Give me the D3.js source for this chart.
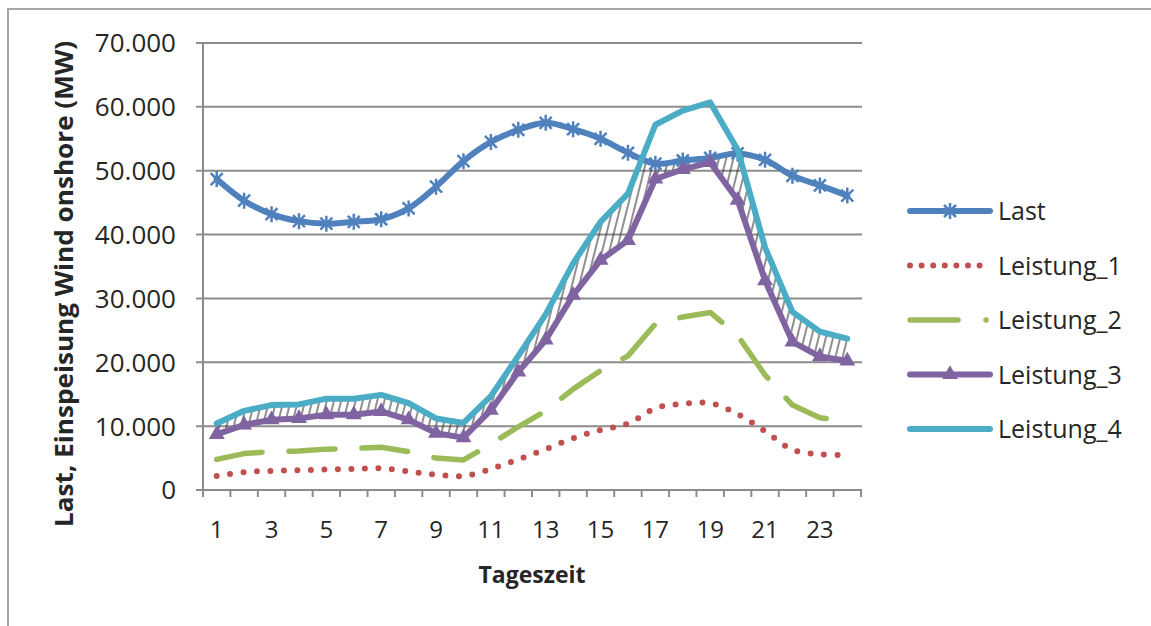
<!DOCTYPE html>
<html>
<head>
<meta charset="utf-8">
<script src="https://cdn.jsdelivr.net/npm/d3@7"></script>
<style>
body { margin: 0; background: #fff; }
text { font-family: "Open Sans", sans-serif; fill: #262626; }
</style>
</head>
<body>
<svg id="chart" width="1151" height="626"></svg>
<script>
var hours = [1, 2, 3, 4, 5, 6, 7, 8, 9, 10, 11, 12, 13, 14, 15, 16, 17, 18, 19, 20, 21, 22, 23, 24];
var hourLabels = [1, 3, 5, 7, 9, 11, 13, 15, 17, 19, 21, 23];
var yTicks = [0, 10000, 20000, 30000, 40000, 50000, 60000, 70000];
var seriesNames = ["Last", "Leistung_1", "Leistung_2", "Leistung_3", "Leistung_4"];

var last = [48700, 45300, 43200, 42100, 41700, 42000, 42400, 44100, 47500, 51500, 54500, 56400,
            57500, 56500, 55000, 52800, 51100, 51600, 52000, 52700, 51700, 49200, 47700, 46100];
var leistung1 = [2200, 2800, 3000, 3100, 3200, 3300, 3400, 2900, 2400, 2200, 3300, 4800,
                 6400, 8100, 9400, 10400, 12800, 13500, 13600, 11900, 9200, 6300, 5600, 5500];
var leistung2 = [4800, 5700, 6000, 6100, 6400, 6500, 6700, 6000, 5000, 4700, 7200, 9900,
                 12400, 15800, 18700, 21000, 26000, 27100, 27800, 24200, 18000, 13300, 11300, 10800];
var leistung3 = [8700, 10200, 11000, 11200, 11800, 11800, 12300, 11000, 8900, 8200, 12500, 18500,
                 23500, 30500, 36000, 39100, 48700, 50200, 51300, 45400, 32800, 23200, 20900, 20200];
var leistung4 = [10400, 12400, 13300, 13400, 14300, 14300, 14900, 13600, 11200, 10500, 14700, 21000,
                 27500, 35500, 42000, 46400, 57200, 59400, 60700, 53300, 38000, 27900, 24800, 23700];

var svg = d3.select("#chart");
var x = d3.scaleBand().domain(hours).range([203, 861]);
var y = d3.scaleLinear().domain([0, 70000]).range([490, 43]);
var cx = function (h) { return x(h) + x.bandwidth() / 2; };
var gridColor = "#8c8c8c";

// outer frame (only top + left visible in the original)
svg.append("path")
    .attr("d", "M8,626V9H1151")
    .attr("fill", "none")
    .attr("stroke", "#a6a6a6")
    .attr("stroke-width", 2);

// hatch pattern between Leistung_3 and Leistung_4
var defs = svg.append("defs");
var pat = defs.append("pattern")
    .attr("id", "hatch")
    .attr("patternUnits", "userSpaceOnUse")
    .attr("width", 7)
    .attr("height", 10)
    .attr("patternTransform", "rotate(14)");
pat.append("line")
    .attr("x1", 1).attr("y1", 0).attr("x2", 1).attr("y2", 10)
    .attr("stroke", "#333")
    .attr("stroke-width", 1.1);

// hatch only where the wind lies under the load curve
defs.append("clipPath")
    .attr("id", "belowLast")
    .append("path")
    .datum(last)
    .attr("d", d3.area()
        .x(function (d, i) { return cx(hours[i]); })
        .y0(490)
        .y1(function (d) { return y(d); })
        .curve(d3.curveCatmullRom));

// gridlines
svg.append("g").selectAll("line").data(yTicks).enter().append("line")
    .attr("x1", 196).attr("x2", 862)
    .attr("y1", function (d) { return y(d); })
    .attr("y2", function (d) { return y(d); })
    .attr("stroke", gridColor)
    .attr("stroke-width", 2);

// y axis line
svg.append("line")
    .attr("x1", 203).attr("x2", 203)
    .attr("y1", y(70000)).attr("y2", 497)
    .attr("stroke", gridColor).attr("stroke-width", 2);

// x ticks at band edges
var edges = hours.map(function (h) { return x(h); }).concat([x.range()[1]]);
svg.append("g").selectAll("line").data(edges).enter().append("line")
    .attr("x1", function (d) { return d; })
    .attr("x2", function (d) { return d; })
    .attr("y1", 490).attr("y2", 497)
    .attr("stroke", gridColor).attr("stroke-width", 2);

// y tick labels
svg.append("g").selectAll("text").data(yTicks).enter().append("text")
    .attr("x", 176)
    .attr("y", function (d) { return y(d); })
    .attr("dy", "0.36em")
    .attr("text-anchor", "end")
    .style("font-size", "26px")
    .text(function (d) { return d3.format(",")(d).replace(/,/g, "."); });

// x tick labels
svg.append("g").selectAll("text").data(hourLabels).enter().append("text")
    .attr("x", function (d) { return cx(d); })
    .attr("y", 538)
    .attr("text-anchor", "middle")
    .style("font-size", "24px")
    .text(function (d) { return d; });

// axis titles
svg.append("text")
    .attr("transform", "translate(73,284) rotate(-90)")
    .attr("text-anchor", "middle")
    .attr("textLength", 486)
    .attr("lengthAdjust", "spacingAndGlyphs")
    .style("font-size", "25px")
    .style("font-weight", "bold")
    .text("Last, Einspeisung Wind onshore (MW)");

svg.append("text")
    .attr("x", 532)
    .attr("y", 583)
    .attr("text-anchor", "middle")
    .style("font-size", "23px")
    .style("font-weight", "bold")
    .text("Tageszeit");

// hatched band
var band = d3.area()
    .x(function (d, i) { return cx(hours[i]); })
    .y0(function (d, i) { return y(leistung3[i]); })
    .y1(function (d, i) { return y(leistung4[i]); });
svg.append("path")
    .datum(hours)
    .attr("d", band)
    .attr("clip-path", "url(#belowLast)")
    .attr("fill", "url(#hatch)");

function lineFor(values, curve) {
    return d3.line()
        .x(function (d, i) { return cx(hours[i]); })
        .y(function (d) { return y(d); })
        .curve(curve)(values);
}

var styles = {
    "Last": { color: "#4f81bd", values: last, curve: d3.curveCatmullRom, dash: null, width: 6 },
    "Leistung_1": { color: "#c0504d", values: leistung1, curve: d3.curveCatmullRom, dash: "0,13.5", width: 6 },
    "Leistung_2": { color: "#9bbb59", values: leistung2, curve: d3.curveLinear, dash: "46,27", width: 5.5 },
    "Leistung_3": { color: "#8064a2", values: leistung3, curve: d3.curveLinear, dash: null, width: 6 },
    "Leistung_4": { color: "#4bacc6", values: leistung4, curve: d3.curveLinear, dash: null, width: 6 }
};

seriesNames.forEach(function (name) {
    var s = styles[name];
    svg.append("path")
        .attr("d", lineFor(s.values, s.curve))
        .attr("fill", "none")
        .attr("stroke", s.color)
        .attr("stroke-width", s.width)
        .attr("stroke-linejoin", "round")
        .attr("stroke-linecap", "round")
        .attr("stroke-dasharray", s.dash);

    if (name == "Last") {
        svg.append("g").selectAll("path").data(s.values).enter().append("path")
            .attr("transform", function (d, i) { return "translate(" + cx(hours[i]) + "," + y(d) + ")"; })
            .attr("d", "M-6,-6L6,6M-6,6L6,-6M0,-8L0,8")
            .attr("stroke", s.color)
            .attr("stroke-width", 2.5)
            .attr("fill", "none");
    }
    if (name == "Leistung_3") {
        svg.append("g").selectAll("path").data(s.values).enter().append("path")
            .attr("transform", function (d, i) { return "translate(" + cx(hours[i]) + "," + y(d) + ")"; })
            .attr("d", d3.symbol().type(d3.symbolTriangle).size(110))
            .attr("fill", s.color);
    }
});

// legend
var legend = svg.append("g").selectAll("g").data(seriesNames).enter().append("g")
    .attr("transform", function (d, i) { return "translate(910," + (211 + i * 54.5) + ")"; });

legend.append("line")
    .attr("x1", 0).attr("x2", 80)
    .attr("y1", 0).attr("y2", 0)
    .attr("stroke", function (d) { return styles[d].color; })
    .attr("stroke-width", function (d) { return styles[d].width; })
    .attr("stroke-linecap", "round")
    .attr("stroke-dasharray", function (d) {
        if (d == "Leistung_1") return "0,11.6";
        if (d == "Leistung_2") return "48,28,0.1,100";
        return null;
    });

legend.filter(function (d) { return d == "Last"; }).append("path")
    .attr("d", "M34,-6L46,6M34,6L46,-6M40,-8L40,8")
    .attr("stroke", styles["Last"].color)
    .attr("stroke-width", 2.5);

legend.filter(function (d) { return d == "Leistung_3"; }).append("path")
    .attr("transform", "translate(40,0)")
    .attr("d", d3.symbol().type(d3.symbolTriangle).size(110))
    .attr("fill", styles["Leistung_3"].color);

legend.append("text")
    .attr("x", 88)
    .attr("y", 0)
    .attr("dy", "0.36em")
    .style("font-size", "25px")
    .text(function (d) { return d; });
</script>
</body>
</html>
